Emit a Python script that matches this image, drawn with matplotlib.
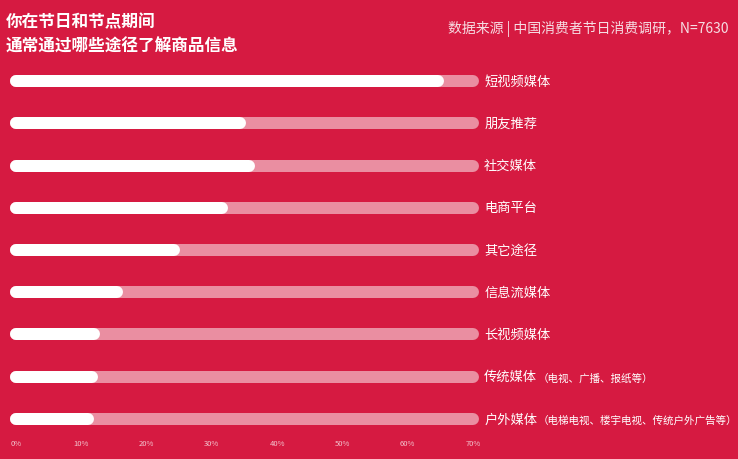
import matplotlib
matplotlib.use("Agg")
import matplotlib.pyplot as plt
from matplotlib.ticker import FuncFormatter

plt.rcParams['font.family'] = ['Noto Sans CJK SC', 'DejaVu Sans']

# data
channels = ["短视频媒体", "朋友推荐", "社交媒体", "电商平台", "其它途径",
            "信息流媒体", "长视频媒体", "传统媒体", "户外媒体"]
notes = ["", "", "", "", "", "", "", "（电视、广播、报纸等）",
         "（电梯电视、楼宇电视、传统户外广告等）"]
share = [64.6, 34.3, 35.7, 31.5, 24.2, 15.5, 11.9, 11.6, 11.0]
xticks = [0, 10, 20, 30, 40, 50, 60, 70]
track_max = 70

bg = "#d61a41"
track_col = "#ea8ea1"

fig = plt.figure(figsize=(7.38, 4.6), dpi=100, facecolor=bg)
ax = fig.add_axes([16 / 738, 1 - 441 / 460, 457 / 738, 380 / 460])
ax.set_facecolor(bg)

lw = 12 * 72 / 100  # 12 px thick
labels = []
for i, (name, v) in enumerate(zip(channels, share)):
    ax.plot([0, track_max], [i, i], color=track_col, lw=lw,
            solid_capstyle="round", clip_on=False)
    ax.plot([0, v], [i, i], color="white", lw=lw,
            solid_capstyle="round", clip_on=False)
    t = ax.annotate(name, xy=(track_max, i), xytext=(8, 0), textcoords="offset points",
                    ha="left", va="center", color="white", fontsize=9.5,
                    fontweight="medium")
    labels.append(t)

# notes placed right after main labels
fig.canvas.draw()
r = fig.canvas.get_renderer()
inv = ax.transData.inverted()
for i, (t, note) in enumerate(zip(labels, notes)):
    if not note:
        continue
    bb = t.get_window_extent(r)
    x_end = inv.transform((bb.x1, bb.y0))[0]
    ax.annotate(note, xy=(x_end, i), xytext=(-4.5, -0.5), textcoords="offset points",
                ha="left", va="center", color="white", fontsize=7.6,
                annotation_clip=False)

ax.set_xlim(0, track_max)
ax.set_ylim(len(channels) - 0.5, -0.5)
ax.set_xticks(xticks)
ax.xaxis.set_major_formatter(FuncFormatter(lambda v, p: f"{int(v)}%"))
ax.tick_params(axis="x", length=0, pad=-1, labelsize=5.5, labelcolor="#f2c4ce")
ax.set_yticks([])
for s in ax.spines.values():
    s.set_visible(False)

fig.text(6 / 738, 1 - 22 / 460, "你在节日和节点期间", color="white", fontsize=12,
         fontweight="bold", va="center", ha="left")
fig.text(6 / 738, 1 - 47 / 460, "通常通过哪些途径了解商品信息", color="white", fontsize=12,
         fontweight="bold", va="center", ha="left")
fig.text(728 / 738, 1 - 29 / 460, "数据来源 | 中国消费者节日消费调研，N=7630", color="#f6dde3",
         fontsize=10, va="center", ha="right")

fig.savefig("out.png", dpi=100, facecolor=bg)
